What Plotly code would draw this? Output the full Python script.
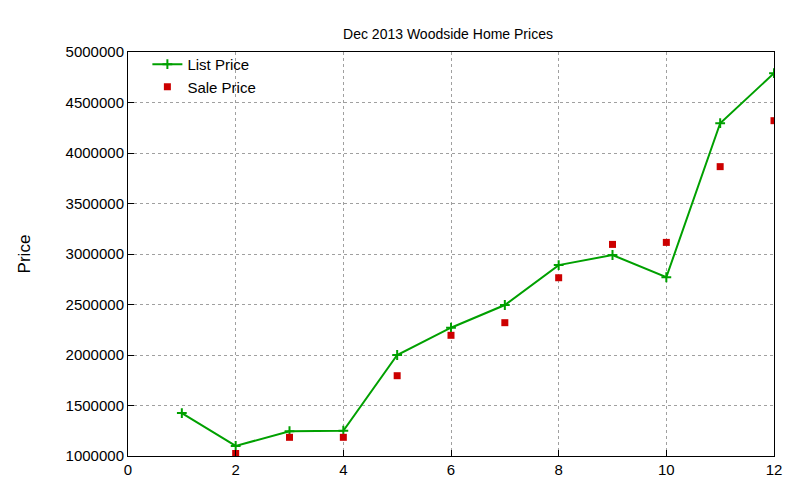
import plotly.graph_objects as go

months = [1,2,3,4,5,6,7,8,9,10,11,12]
list_price = [1425000,1100000,1245000,1250000,2000000,2270000,2495000,2890000,2990000,2770000,4295000,4790000]
sale_months = [2,3,4,5,6,7,8,9,10,11,12]
sale_price = [1025000,1185000,1185000,1795000,2195000,2320000,2765000,3095000,3115000,3865000,4320000]

fig = go.Figure()
fig.add_trace(go.Scatter(x=months, y=list_price, name="List Price", mode="lines+markers",
    line=dict(color="#00a000", width=2), marker=dict(symbol="cross-thin", size=7, line=dict(color="#00a000", width=2))))
fig.add_trace(go.Scatter(x=sale_months, y=sale_price, name="Sale Price", mode="markers",
    marker=dict(symbol="square", size=7, color="#cc0000")))

ax = dict(showline=True, mirror=True, linecolor="black", linewidth=1, gridcolor="#a0a0a0",
          griddash="dot", zeroline=False, ticks="inside", ticklen=6, tickcolor="black",
          automargin=False, tickfont=dict(size=15))
fig.update_layout(
    width=800, height=480, plot_bgcolor="white", paper_bgcolor="white",
    font=dict(family="Liberation Sans, Arial", size=14, color="black"),
    title=dict(text="Dec 2013 Woodside Home Prices", x=0.55, xanchor="center", y=0.955, font=dict(size=14)),
    margin=dict(l=120, r=34, t=44, b=32, autoexpand=False),
    xaxis=dict(range=[0,12], dtick=2, **ax),
    yaxis=dict(range=[1000000,5000000], dtick=500000, title=dict(text="Price", standoff=30), tickformat="d", **ax),
    legend=dict(x=0.03, y=1.01, xanchor="left", yanchor="top", bgcolor="rgba(0,0,0,0)", tracegroupgap=0,
                font=dict(size=15)),
    showlegend=True,
)
fig.write_html("out.html")
